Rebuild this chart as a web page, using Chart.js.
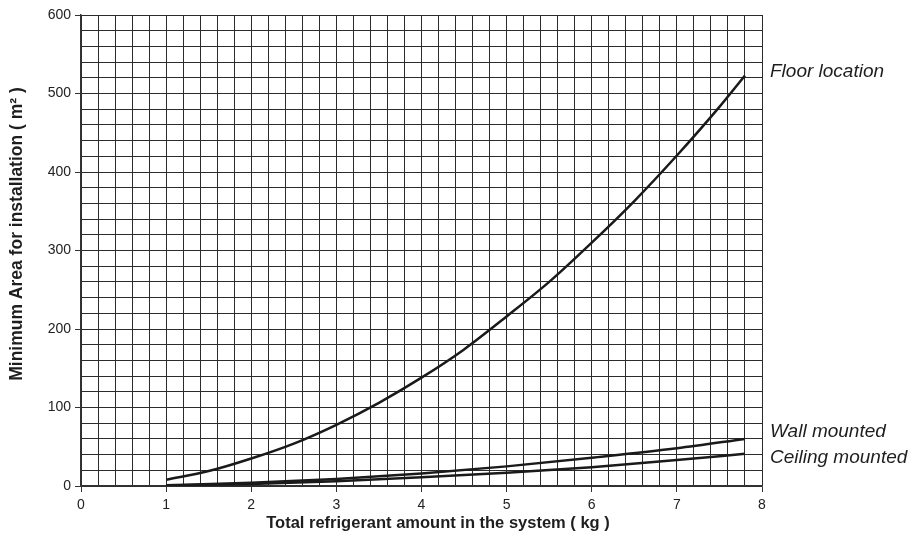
<!DOCTYPE html>
<html>
<head>
<meta charset="utf-8">
<script src="https://cdn.jsdelivr.net/npm/chart.js@4.4.1/dist/chart.umd.min.js"></script>
<style>
  html, body { margin: 0; padding: 0; background: #fff; }
  #wrap { width: 912px; height: 539px; }
</style>
</head>
<body>
<div id="wrap"><canvas id="myChart"></canvas></div>
<script>
// valores
const massFloor = [1, 1.5, 2, 2.5, 3, 3.5, 4, 4.5, 5, 5.5, 6, 6.5, 7, 7.5, 7.8];
const areaFloor = [8, 19, 35, 54, 78, 106, 138, 174, 216, 260, 310, 363, 421, 483, 523];

const massSmall = [1, 2, 3, 4, 5, 6, 7, 7.8];
const areaWall = [1, 4, 9, 16, 25, 36, 48, 60];
const areaCeiling = [0.7, 2.7, 6, 11, 17, 24, 33, 41];

const seriesLabels = ["Floor location", "Wall mounted", "Ceiling mounted"];
const labelAt = [528, 69, 36]; // valor y donde se escribe cada etiqueta

const xTitle = "Total refrigerant amount in the system ( kg )";
const yTitle = "Minimum Area for installation ( m\u00B2 )";

function pts(xs, ys) {
	return xs.map((x, i) => ({ x: x, y: ys[i] }));
}

const FONT = "'Liberation Sans', Arial, sans-serif";
const gridColor = "#2b2b2b";

const extraText = {
	id: "extraText",
	afterDraw(chart) {
		const c = chart.ctx;
		const yS = chart.scales.y;
		c.save();
		c.font = "italic 19px " + FONT;
		c.fillStyle = "#1e1e1e";
		c.textBaseline = "middle";
		seriesLabels.forEach((t, i) => {
			c.fillText(t, chart.chartArea.right + 8, yS.getPixelForValue(labelAt[i]));
		});
		// titulos de los ejes
		c.textAlign = "center";
		c.font = "bold 16.5px " + FONT;
		c.fillText(xTitle, 438, 523);
		c.font = "bold 17.5px " + FONT;
		c.translate(17, 234);
		c.rotate(-Math.PI / 2);
		c.fillText(yTitle, 0, 0);
		c.restore();
	}
};

const ctx = document.getElementById("myChart").getContext("2d");
let myChart = new Chart(ctx, {
	type: "line",
	data: {
		datasets: [
			{ label: seriesLabels[0], data: pts(massFloor, areaFloor) },
			{ label: seriesLabels[1], data: pts(massSmall, areaWall) },
			{ label: seriesLabels[2], data: pts(massSmall, areaCeiling) }
		].map(d => Object.assign(d, {
			borderColor: "#1a1a1a",
			borderWidth: 2.5,
			pointRadius: 0,
			fill: false,
			cubicInterpolationMode: "monotone"
		}))
	},
	options: {
		responsive: true,
		maintainAspectRatio: false,
		animation: false,
		layout: { padding: { top: 15, right: 150, left: 0, bottom: 0 } },
		plugins: { legend: { display: false }, tooltip: { enabled: false } },
		scales: {
			x: {
				type: "linear",
				min: 0,
				max: 8,
				afterFit(s) { s.height = 53; },
				border: { color: "#333", width: 1.5 },
				grid: {
					color: gridColor,
					lineWidth: 1,
					tickLength: 6,
					tickColor: c => (Math.abs(c.tick.value - Math.round(c.tick.value)) < 1e-6 ? "#333" : "rgba(0,0,0,0)")
				},
				ticks: {
					stepSize: 0.2,
					autoSkip: false,
					maxRotation: 0,
					padding: 5,
					color: "#222",
					font: { family: FONT, size: 14 },
					callback: v => (Math.abs(v - Math.round(v)) < 1e-6 ? Math.round(v) : "")
				}
			},
			y: {
				min: 0,
				max: 600,
				afterFit(s) { s.width = 81; },
				border: { color: "#333", width: 1.5 },
				grid: {
					color: gridColor,
					lineWidth: 1,
					tickLength: 6,
					tickColor: c => (c.tick.value % 100 === 0 ? "#333" : "rgba(0,0,0,0)")
				},
				ticks: {
					stepSize: 20,
					autoSkip: false,
					padding: 4,
					color: "#222",
					font: { family: FONT, size: 14 },
					callback: v => (v % 100 === 0 ? v : "")
				}
			}
		}
	},
	plugins: [extraText]
});
</script>
</body>
</html>
